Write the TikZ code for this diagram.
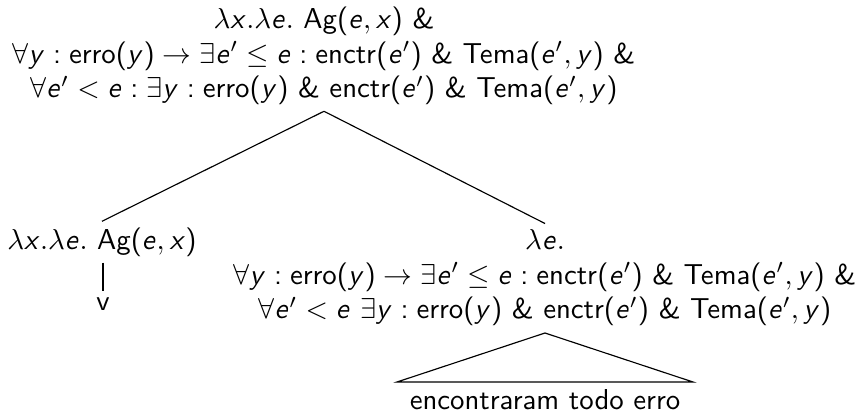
\documentclass[tikz,border=0pt]{standalone}
\usetikzlibrary{positioning}
\renewcommand{\familydefault}{\sfdefault}
\DeclareSymbolFont{sfletters}{OT1}{cmss}{m}{sl}
\SetSymbolFont{operators}{normal}{OT1}{cmss}{m}{n}
\DeclareMathSymbol{e}{\mathalpha}{sfletters}{`e}
\DeclareMathSymbol{x}{\mathalpha}{sfletters}{`x}
\DeclareMathSymbol{y}{\mathalpha}{sfletters}{`y}

\begin{document}
\begin{tikzpicture}[x=0.0122cm,y=-0.0122cm]
      \useasboundingbox (0,0) rectangle (861,412);
      \tikzset{lbl/.style={align=center,inner sep=2pt}}

      % the tree nodes
      \node[lbl] (root) at (324,56) {$\lambda x.\lambda e.$ Ag$(e,x)$ \&\\
            $\forall y:\mathrm{erro}(y)\to\exists e'\leq e:\mathrm{enctr}(e')$ \& Tema$(e',y)$ \&\\
            $\forall e'<e:\exists y:\mathrm{erro}(y)$ \& enctr$(e')$ \& Tema$(e',y)$};
      \node[lbl] (agent) at (102,242) {$\lambda x.\lambda e.$ Ag$(e,x)$};
      \node[lbl] (v) at (103,304) {v};
      \node[lbl] (vp) at (545,278) {$\lambda e.$\\
            $\forall y:\mathrm{erro}(y)\to\exists e'\leq e:\mathrm{enctr}(e')$ \& Tema$(e',y)$ \&\\
            $\forall e'<e\ \exists y:\mathrm{erro}(y)$ \& enctr$(e')$ \& Tema$(e',y)$};
      \node[lbl,anchor=base] (leaf) at (545,410) {encontraram todo erro};
      \coordinate (apex) at (545,333);
      \coordinate (baseL) at (397,382);
      \coordinate (baseR) at (693,382);

      % the branches
      \draw (root.south) -- (agent.north);
      \draw (root.south) -- (vp.north);
      \draw (agent.south -| v) -- (v.north);
      \draw (apex) -- (baseL) -- (baseR) -- cycle;
\end{tikzpicture}
\end{document}
